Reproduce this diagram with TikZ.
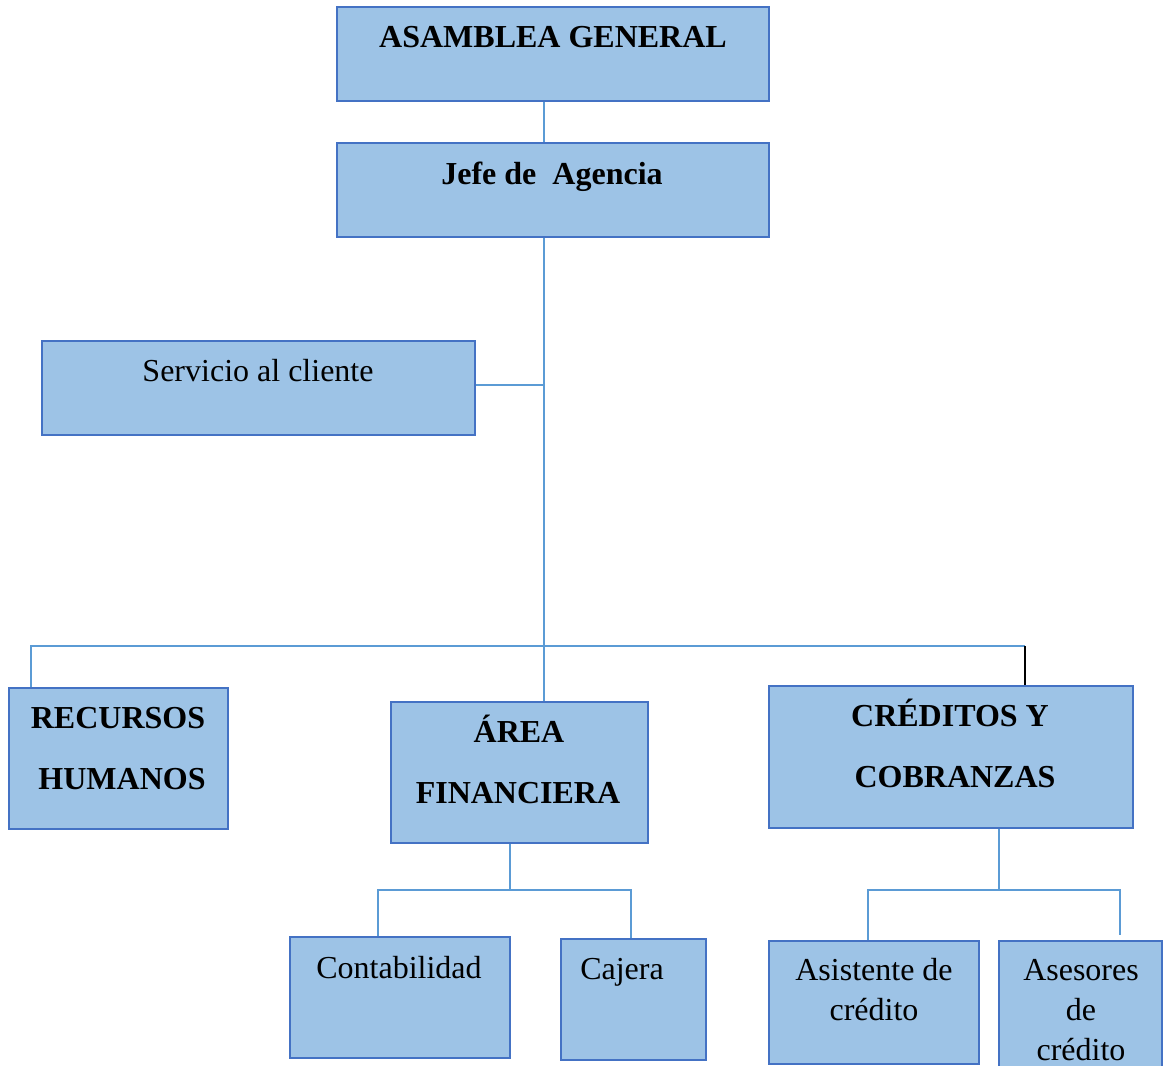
\documentclass[tikz,border=0pt]{standalone}
\usepackage{fontspec}
\setmainfont{Liberation Serif}
\definecolor{boxfill}{HTML}{9DC3E6}
\definecolor{boxline}{HTML}{4472C4}
\definecolor{connline}{HTML}{5B9BD5}
\begin{document}
\begin{tikzpicture}[x=1pt,y=-1pt,
  box/.style={draw=boxline, fill=boxfill, line width=1.2pt, rectangle, inner sep=0pt},
  conn/.style={draw=connline, line width=1.1pt},
  lbl/.style={anchor=base, inner sep=0pt, font=\fontsize{32}{38}\selectfont},
  blbl/.style={lbl, font=\fontsize{32}{38}\selectfont\bfseries}]
\useasboundingbox (0,0) rectangle (1166,1065);
% boxes
\node[box, minimum width=432pt, minimum height=94pt] (asamblea) at (553,54) {};
\node[box, minimum width=432pt, minimum height=94pt] (jefe) at (553,190) {};
\node[box, minimum width=433pt, minimum height=94pt] (servicio) at (258.5,388) {};
\node[box, minimum width=219pt, minimum height=141pt] (recursos) at (118.5,758.5) {};
\node[box, minimum width=257pt, minimum height=141pt] (area) at (519.5,772.5) {};
\node[box, minimum width=364pt, minimum height=142pt] (creditos) at (951,757) {};
\node[box, minimum width=220pt, minimum height=121pt] (conta) at (400,997.5) {};
\node[box, minimum width=145pt, minimum height=121pt] (cajera) at (633.5,999.5) {};
\node[box, minimum width=210pt, minimum height=123pt] (asist) at (874,1002.5) {};
\node[box, minimum width=163pt, minimum height=134pt] (asesores) at (1080.5,1008) {};
% texts
\node[blbl] (tA) at (553,48) {ASAMBLEA GENERAL};
\node[blbl] (tJ) at (552,184) {Jefe de~ Agencia};
\node[lbl] (tS) at (258,381) {Servicio al cliente};
\node[blbl] (tR1) at (118,728) {RECURSOS};
\node[blbl] (tR2) at (122,789) {HUMANOS};
\node[blbl] (tF1) at (519,742) {ÁREA};
\node[blbl] (tF2) at (518,803) {FINANCIERA};
\node[blbl] (tC1) at (950,726) {CRÉDITOS Y};
\node[blbl] (tC2) at (955,787) {COBRANZAS};
\node[lbl] (tCo) at (399,978) {Contabilidad};
\node[lbl] (tCa) at (622,979) {Cajera};
\node[lbl] (tAs1) at (874,980) {Asistente de};
\node[lbl] (tAs2) at (874,1020) {crédito};
\node[lbl] (tAe1) at (1081,980) {Asesores};
\node[lbl] (tAe2) at (1081,1020) {de};
\node[lbl] (tAe3) at (1081,1060) {crédito};
% connector coordinates
\coordinate (spine) at (544,0);
\coordinate (sy) at (0,385);
\coordinate (bar) at (0,646);
\coordinate (rx) at (31,0);
\coordinate (cx) at (1025,0);
\coordinate (fx) at (510,0);
\coordinate (fbar) at (0,890);
\coordinate (lx) at (378,0);
\coordinate (kx) at (631,0);
\coordinate (gx) at (999,0);
\coordinate (ax) at (868,0);
\coordinate (bx) at (1120,0);
\coordinate (bend) at (1120,935);
% connectors
\draw[conn] (asamblea.south -| spine) -- (jefe.north -| spine);
\draw[conn] (jefe.south -| spine) -- (area.north -| spine);
\draw[conn] (servicio.east |- sy) -- (spine |- sy);
\draw[conn] (recursos.north -| rx) -- (bar -| rx) -- (bar -| cx);
\draw[line width=1.1pt, black] (bar -| cx) -- (creditos.north -| cx);
\draw[conn] (area.south -| fx) -- (fbar -| fx);
\draw[conn] (conta.north -| lx) -- (fbar -| lx) -- (fbar -| kx) -- (cajera.north -| kx);
\draw[conn] (creditos.south -| gx) -- (fbar -| gx);
\draw[conn] (asist.north -| ax) -- (fbar -| ax) -- (fbar -| bx) -- (bend);
\end{tikzpicture}
\end{document}
